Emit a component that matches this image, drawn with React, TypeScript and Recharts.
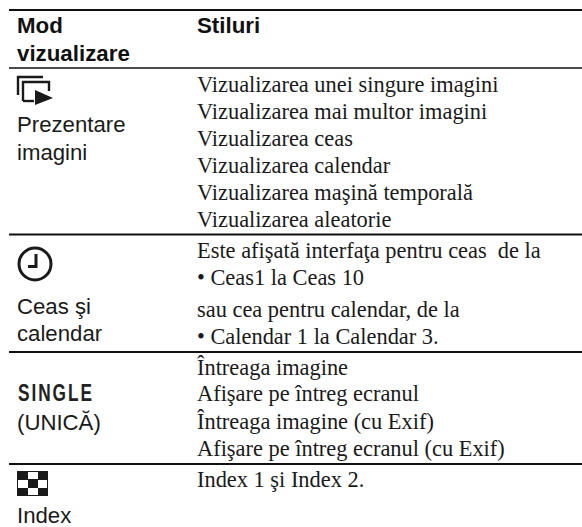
import { ScatterChart, Scatter, XAxis, YAxis, ReferenceLine } from 'recharts';

const WIDTH = 582;
const HEIGHT = 527;

const SERIF = '"Liberation Serif", serif';
const SANS = '"Liberation Sans", sans-serif';

// Table text
const headerLabels = ['Mod', 'vizualizare', 'Stiluri'];
const modeLabels = ['Prezentare', 'imagini', 'Ceas şi', 'calendar', '(UNICĂ)', 'Index'];
const singleLabel = ['SINGLE'];
const styleLines = [
  'Vizualizarea unei singure imagini',
  'Vizualizarea mai multor imagini',
  'Vizualizarea ceas',
  'Vizualizarea calendar',
  'Vizualizarea maşină temporală',
  'Vizualizarea aleatorie',
  'Este afişată interfaţa pentru ceas  de la',
  '• Ceas1 la Ceas 10',
  'sau cea pentru calendar, de la',
  '• Calendar 1 la Calendar 3.',
  'Întreaga imagine',
  'Afişare pe întreg ecranul',
  'Întreaga imagine (cu Exif)',
  'Afişare pe întreg ecranul (cu Exif)',
  'Index 1 şi Index 2.',
];

// Layout, in picture pixels
const styleBaselines = [92, 119, 146, 173, 200, 227, 258, 285, 317, 344, 375, 401, 429, 456, 487];
const modeBaselines = [132, 160, 314, 341, 430, 523];
const headerBaselines = [33, 61, 33];
const headerX = [17, 17, 197];
const rules = [
  { y: 10, w: 2.2 },
  { y: 68, w: 1.6 },
  { y: 234.5, w: 1.8 },
  { y: 352, w: 1.8 },
  { y: 464, w: 1.8 },
];

const textPoints = [
  ...headerLabels.map((text, i) => ({ x: headerX[i], y: headerBaselines[i], text, kind: 'header' })),
  ...modeLabels.map((text, i) => ({ x: 17, y: modeBaselines[i], text, kind: 'mode' })),
  ...singleLabel.map((text) => ({ x: 18, y: 401, text, kind: 'single' })),
  ...styleLines.map((text, i) => ({ x: 197, y: styleBaselines[i], text, kind: 'style' })),
];

const iconPoints = [
  { x: 17, y: 76, icon: 'slideshow' },
  { x: 35, y: 264, icon: 'clock' },
  { x: 17, y: 471, icon: 'index' },
];

function TextMark({ cx, cy, payload }: any) {
  if (payload.kind === 'header') {
    return <text x={cx} y={cy} fontFamily={SANS} fontSize={22.3} fontWeight={700} fill="#111">{payload.text}</text>;
  }
  if (payload.kind === 'mode') {
    return <text x={cx} y={cy} fontFamily={SANS} fontSize={22.2} fill="#1a1a1a">{payload.text}</text>;
  }
  if (payload.kind === 'single') {
    // condensed label, no narrow face is installed
    return (
      <text transform={`translate(${cx},${cy}) scale(0.75,1)`} fontFamily={SANS} fontSize={23} fontWeight={700} letterSpacing={2.6} fill="#222">
        {payload.text}
      </text>
    );
  }
  return <text x={cx} y={cy} fontFamily={SERIF} fontSize={22.4} fill="#1a1a1a" style={{ whiteSpace: 'pre' }}>{payload.text}</text>;
}

function IconMark({ cx, cy, payload }: any) {
  if (payload.icon === 'slideshow') {
    return (
      <g transform={`translate(${cx},${cy})`} fill="none" stroke="#1a1a1a" strokeWidth={2.4}>
        <path d="M1 19V1H26" />
        <path d="M6 25V6H32V15" />
        <path d="M6 25H17" />
        <path d="M18 14L36 22L18 29Z" fill="#1a1a1a" stroke="none" />
      </g>
    );
  }
  if (payload.icon === 'clock') {
    return (
      <g transform={`translate(${cx},${cy})`} fill="none" stroke="#1a1a1a" strokeWidth={3}>
        <circle r={16} />
        <path d="M1 -10V2.5H-7" />
      </g>
    );
  }
  return (
    <g transform={`translate(${cx},${cy})`} fill="#1a1a1a">
      <rect width={31} height={25} />
      <rect x={11} y={1} width={10} height={7} fill="#fff" />
      <rect x={1} y={9} width={10} height={8} fill="#fff" />
      <rect x={21} y={9} width={9} height={8} fill="#fff" />
      <rect x={11} y={17} width={10} height={7} fill="#fff" />
    </g>
  );
}

export default function App() {
  return (
    <div style={{ position: 'absolute', left: 0, top: 0, width: WIDTH, height: HEIGHT, background: '#fff' }}>
      <ScatterChart width={WIDTH} height={HEIGHT} margin={{ top: 0, right: 0, bottom: 0, left: 0 }}>
        <XAxis type="number" dataKey="x" domain={[0, WIDTH]} hide />
        <YAxis type="number" dataKey="y" domain={[0, HEIGHT]} reversed hide />
        {rules.map((r) => (
          <ReferenceLine
            key={r.y}
            segment={[{ x: 9, y: r.y }, { x: WIDTH, y: r.y }]}
            stroke="#111"
            strokeWidth={r.w}
          />
        ))}
        <Scatter data={textPoints} shape={TextMark} isAnimationActive={false} />
        <Scatter data={iconPoints} shape={IconMark} isAnimationActive={false} />
      </ScatterChart>
    </div>
  );
}
